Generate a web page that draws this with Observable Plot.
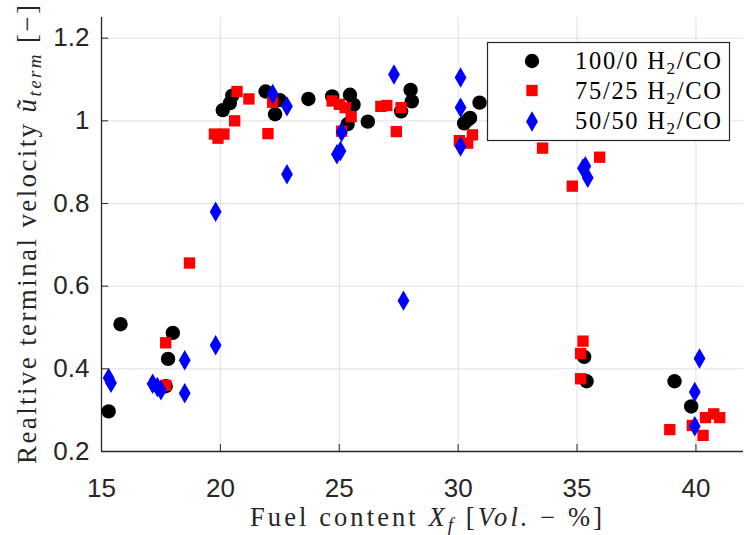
<!DOCTYPE html>
<html><head><meta charset="utf-8">
<script src="https://cdn.jsdelivr.net/npm/d3@7"></script>
<script src="https://cdn.jsdelivr.net/npm/@observablehq/plot@0.6"></script>
<style>body{margin:0;background:#fff} #chart{width:745px;height:535px}</style>
</head><body><div id="chart"></div>
<script>
// Series: 100/0 H2/CO (black circles)
const h100x = [15.3, 15.8, 17.7, 17.8, 18.0, 20.1, 20.4, 20.5, 21.9, 22.3, 22.5, 23.7, 24.7, 25.35, 25.45, 25.6, 26.2, 27.6, 28.0, 28.05, 30.25, 30.4, 30.5, 30.9, 35.3, 35.4, 39.1, 39.8];
const h100y = [0.297, 0.508, 0.358, 0.424, 0.487, 1.026, 1.043, 1.061, 1.071, 1.016, 1.050, 1.053, 1.059, 0.992, 1.063, 1.039, 0.998, 1.023, 1.075, 1.047, 0.994, 1.002, 1.007, 1.044, 0.429, 0.370, 0.370, 0.309];
// Series: 75/25 H2/CO (red squares)
const h75x = [17.7, 17.7, 18.7, 19.75, 19.9, 20.15, 20.6, 20.7, 21.2, 22.0, 22.2, 24.7, 25.0, 25.25, 25.5, 25.1, 26.75, 27.0, 27.6, 27.4, 30.05, 30.4, 30.6, 33.55, 34.8, 35.95, 35.25, 35.15, 35.15, 38.9, 39.85, 40.3, 40.4, 40.75, 41.0];
const h75y = [0.463, 0.360, 0.656, 0.968, 0.958, 0.968, 1.000, 1.071, 1.053, 0.969, 1.045, 1.048, 1.040, 1.032, 1.010, 0.975, 1.035, 1.037, 1.032, 0.974, 0.952, 0.946, 0.966, 0.934, 0.842, 0.912, 0.467, 0.437, 0.376, 0.253, 0.263, 0.239, 0.282, 0.291, 0.282];
// Series: 50/50 H2/CO (blue diamonds)
const h50x = [15.3, 15.4, 17.15, 17.35, 17.5, 18.5, 18.5, 19.8, 19.8, 22.2, 22.8, 22.8, 24.9, 25.05, 25.1, 27.3, 27.7, 30.1, 30.1, 30.1, 35.25, 35.35, 35.45, 40.15, 39.95, 39.95];
const h50y = [0.378, 0.366, 0.364, 0.356, 0.348, 0.421, 0.341, 0.457, 0.780, 1.065, 1.035, 0.871, 0.919, 0.927, 0.973, 1.112, 0.565, 1.105, 1.032, 0.938, 0.885, 0.890, 0.862, 0.425, 0.344, 0.261];

const xTicks = [15, 20, 25, 30, 35, 40];
const xTickLabels = ["15", "20", "25", "30", "35", "40"];
const yTicks = [0.2, 0.4, 0.6, 0.8, 1, 1.2];
const yTickLabels = ["0.2", "0.4", "0.6", "0.8", "1", "1.2"];
const seriesNames = ["100/0", "75/25", "50/50"];

const toRows = (xs, ys) => xs.map((x, i) => ({x, y: ys[i]}));
const s100 = toRows(h100x, h100y);
const s75 = toRows(h75x, h75y);
const s50 = toRows(h50x, h50y);

const axisColor = "#262626";
const plot = Plot.plot({
  width: 745, height: 535,
  marginLeft: 101, marginRight: 2, marginTop: 17, marginBottom: 84,
  x: {domain: [15, 42]},
  y: {domain: [0.2, 1.25]},
  style: {fontFamily: "'Liberation Sans', Arial, sans-serif", fontSize: "26px", color: axisColor, background: "#fff", overflow: "visible"},
  marks: [
    Plot.gridX(xTicks, {stroke: "#000", strokeOpacity: 0.12, strokeWidth: 1}),
    Plot.gridY(yTicks, {stroke: "#000", strokeOpacity: 0.12, strokeWidth: 1}),
    Plot.ruleX([15], {stroke: axisColor, strokeWidth: 1.3}),
    Plot.ruleY([0.2], {stroke: axisColor, strokeWidth: 1.3}),
    // inward tick marks
    Plot.axisX(xTicks, {tickSize: -7, text: null, label: null, stroke: axisColor}),
    Plot.axisY(yTicks, {tickSize: -7, text: null, label: null, stroke: axisColor}),
    // tick labels
    Plot.axisX(xTicks, {tickSize: 0, tickPadding: 27, label: null,
      tickFormat: d => xTickLabels[xTicks.indexOf(d)]}),
    Plot.axisY(yTicks, {tickSize: 0, tickPadding: 12, label: null,
      tickFormat: d => yTickLabels[yTicks.indexOf(d)]}),
    Plot.dot(s100, {x: "x", y: "y", symbol: "circle", r: 7.2, fill: "#000", stroke: "none"}),
    Plot.dot(s75, {x: "x", y: "y", symbol: "square", r: 6.4, fill: "#ff0000", stroke: "none"}),
    Plot.dot(s50, {x: "x", y: "y", symbol: "diamond", r: 6.2, fill: "#0000ff", stroke: "none"})
  ]
});
document.getElementById("chart").appendChild(plot);

const svg = d3.select(plot);
const serif = "'Liberation Serif', 'DejaVu Serif', serif";
const styleText = (sel, size, anchor) => sel.style("font-family", serif).style("font-size", size + "px")
  .style("text-anchor", anchor).style("fill", axisColor);

// X axis label
const xl = styleText(svg.append("text").attr("x", 426).attr("y", 525.5), 26.5, "middle")
  .attr("textLength", 352).attr("lengthAdjust", "spacing");
xl.append("tspan").text("Fuel content ");
xl.append("tspan").style("font-style", "italic").text("X");
xl.append("tspan").style("font-style", "italic").style("font-size", "19px").attr("dy", 5).text("f");
xl.append("tspan").attr("dy", -5).text(" [");
xl.append("tspan").style("font-style", "italic").text("Vol.");
xl.append("tspan").text(" \u2212 %]");

// Y axis label
const yl = styleText(svg.append("text").attr("transform", "translate(36,234.5) rotate(-90)"), 27, "middle")
  .attr("textLength", 459).attr("lengthAdjust", "spacing");
yl.append("tspan").text("Realtive terminal velocity ");
yl.append("tspan").style("font-style", "italic").text("\u0169");
yl.append("tspan").style("font-style", "italic").style("font-size", "19px").attr("dy", 5).text("term");
yl.append("tspan").attr("dy", -5).text(" [\u2212]");

// Legend
const lg = svg.append("g");
lg.append("rect").attr("x", 487.5).attr("y", 42.5).attr("width", 242).attr("height", 98)
  .attr("fill", "#fff").attr("stroke", axisColor).attr("stroke-width", 1.2);
const legendItems = [
  {sym: d3.symbolCircle, r: 7.2, color: "#000", cy: 61, by: 68.5},
  {sym: d3.symbolSquare, r: 6.4, color: "#ff0000", cy: 90.5, by: 98.5},
  {sym: d3.symbolDiamond, r: 6.2, color: "#0000ff", cy: 121.5, by: 128.5}
];
legendItems.forEach((it, i) => {
  lg.append("path").attr("d", d3.symbol(it.sym, Math.PI * it.r * it.r)())
    .attr("transform", `translate(532,${it.cy})`).attr("fill", it.color);
  const t = styleText(lg.append("text").attr("x", 575).attr("y", it.by), 24.5, "start")
    .style("fill", "#000").attr("textLength", 146).attr("lengthAdjust", "spacing");
  t.append("tspan").text(seriesNames[i] + " H");
  t.append("tspan").style("font-size", "17px").attr("dy", 5).text("2");
  t.append("tspan").attr("dy", -5).text("/CO");
});
</script>
</body></html>
